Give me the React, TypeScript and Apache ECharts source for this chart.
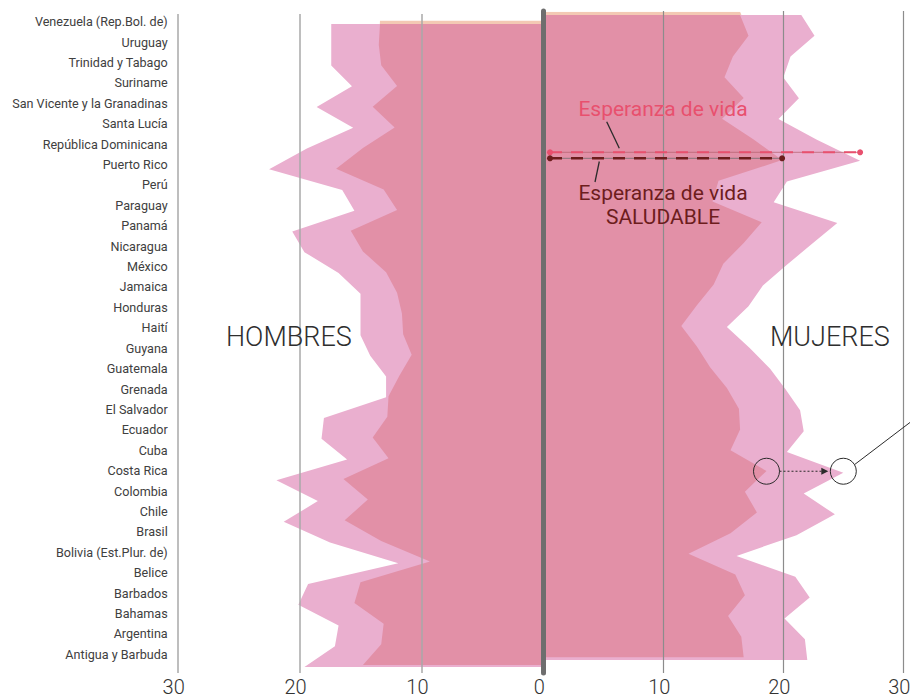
import React, { useEffect, useRef } from 'react';
import * as echarts from 'echarts';

const countries = [
  'Venezuela (Rep.Bol. de)', 'Uruguay', 'Trinidad y Tabago', 'Suriname',
  'San Vicente y la Granadinas', 'Santa Lucía', 'República Dominicana', 'Puerto Rico',
  'Perú', 'Paraguay', 'Panamá', 'Nicaragua', 'México', 'Jamaica', 'Honduras', 'Haití',
  'Guyana', 'Guatemala', 'Grenada', 'El Salvador', 'Ecuador', 'Cuba', 'Costa Rica',
  'Colombia', 'Chile', 'Brasil', 'Bolivia (Est.Plur. de)', 'Belice', 'Barbados',
  'Bahamas', 'Argentina', 'Antigua y Barbuda',
];

// Hombres: esperanza de vida (EV) y esperanza de vida saludable (EVS)
const hombresEV = [17.4, 17.4, 17.4, 15.7, 18.6, 15.6, 19.4, 22.5, 16.5, 15.5, 20.6, 19.6, 16.8, 15.0, 15.0, 15.0, 14.2, 12.9, 12.9, 18.0, 18.2, 16.1, 21.9, 18.5, 21.3, 17.5, 11.9, 19.3, 20.1, 16.8, 17.1, 19.6];
const hombresEVS = [13.4, 13.5, 13.3, 12.0, 14.0, 12.2, 14.8, 17.0, 13.1, 12.0, 15.8, 14.8, 12.9, 12.0, 11.6, 11.5, 10.8, 11.8, 12.7, 12.8, 14.0, 12.7, 16.4, 14.4, 16.3, 13.3, 9.3, 15.0, 15.5, 13.1, 13.3, 14.8];
// Mujeres
const mujeresEV = [21.5, 22.6, 20.6, 20.0, 21.3, 19.6, 22.8, 26.4, 20.3, 19.2, 24.5, 22.4, 20.3, 18.3, 17.1, 15.3, 17.2, 18.9, 20.2, 21.4, 21.7, 20.3, 25.0, 21.7, 24.3, 21.1, 16.1, 21.0, 22.2, 20.1, 21.8, 22.0];
const mujeresEVS = [16.4, 17.1, 15.8, 15.1, 16.7, 14.9, 17.5, 19.9, 14.6, 14.1, 18.2, 16.7, 15.0, 14.2, 12.8, 11.5, 12.8, 13.9, 15.3, 16.3, 16.4, 15.6, 18.6, 16.8, 17.8, 15.6, 12.1, 16.0, 16.8, 15.4, 16.5, 16.7];

const xMin = 0;
const xMax = 30;
const xInterval = 10;

const C_OUTER = '#eaafcf';
const C_INNER = '#e290a7';
const C_PEACH = '#f3c9b4';
const C_RED = '#e8506e';
const C_DARK = '#6d1d1d';

export default function App() {
  const ref = useRef<HTMLDivElement>(null);

  useEffect(() => {
    const chart = echarts.init(ref.current!, null, { renderer: 'svg' });
    const L0 = 177.7, Z0 = 543.3, R30 = 903.3;
    const g = (left: number, right: number, top: number, bottom: number) => ({
      left, top, width: right - left, height: bottom - top, outerBoundsMode: 'none', containLabel: false,
    });
    const grids = [
      g(L0, Z0, 14, 673),      // 0 left frame
      g(Z0, R30, 11, 673),     // 1 right frame
      g(L0, Z0, 21.7, 654.3),  // 2 country labels
      g(L0, Z0, 24, 667),      // 3 left outer
      g(L0, Z0, 24, 665),      // 4 left inner
      g(L0, Z0, 20.5, 661.5),  // 5 left peach
      g(Z0, R30, 15, 660),     // 6 right outer
      g(Z0, R30, 15, 657.5),   // 7 right inner
      g(Z0, R30, 11.7, 654.2), // 8 right peach
    ];
    const leftSide = [0, 2, 3, 4, 5];
    const tickLabel = {
      fontFamily: 'Roboto', fontWeight: 300, fontSize: 20, lineHeight: 18, color: '#333', margin: 5,
      padding: [0, 8, 0, 0],
    };
    const xAxis: any[] = grids.map((_, i) => {
      const base: any = { gridIndex: i, type: 'value', min: xMin, max: xMax, interval: xInterval, inverse: leftSide.includes(i) };
      if (i === 0) {
        return { ...base, z: 10, axisLine: { show: false }, axisTick: { show: false },
          splitLine: { show: true, lineStyle: { color: '#a8a8a8', width: 1.5 } }, axisLabel: tickLabel };
      }
      if (i === 1) {
        return { ...base, z: 10, axisLine: { show: false }, axisTick: { show: false },
          splitLine: { show: true, lineStyle: { color: '#8c8c8c', width: 1.2 } },
          axisLabel: { ...tickLabel, formatter: (v: number) => (v === 0 ? '' : String(v)) } };
      }
      return { ...base, show: false };
    });
    const yAxis: any[] = grids.map((_, i) => {
      if (i === 0) return { gridIndex: 0, type: 'value', min: 0, max: 1, show: false };
      if (i === 1) return { gridIndex: 1, type: 'value', min: 0, max: 1, z: 11,
        axisLine: { show: true, lineStyle: { color: '#6e6e6e', width: 5 } },
        axisLabel: { show: false }, axisTick: { show: false }, splitLine: { show: false } };
      if (i === 2) return { gridIndex: 2, type: 'category', data: countries, inverse: true, boundaryGap: false,
        axisLine: { show: false }, axisTick: { show: false }, splitLine: { show: false },
        axisLabel: { interval: 0, color: '#404040', fontSize: 12.6, fontFamily: 'Roboto', margin: 10 } };
      return { gridIndex: i, type: 'category', data: countries, inverse: true, boundaryGap: false, show: false };
    });
    const area = (idx: number, data: number[], color: string, z: number) => ({
      type: 'line', xAxisIndex: idx, yAxisIndex: idx, data, symbol: 'none', showSymbol: false,
      lineStyle: { width: 0, opacity: 0 }, areaStyle: { color, opacity: 1 }, z, silent: true,
    });
    const option: any = {
      animation: false,
      grid: grids,
      xAxis,
      yAxis,
      series: [
        area(5, hombresEVS, C_PEACH, 1),
        area(3, hombresEV, C_OUTER, 2),
        area(4, hombresEVS, C_INNER, 3),
        area(8, mujeresEVS, C_PEACH, 1),
        area(6, mujeresEV, C_OUTER, 2),
        area(7, mujeresEVS, C_INNER, 3),
      ],
    };
    chart.setOption(option);

    const pr = countries.indexOf('Puerto Rico');
    const cr = countries.indexOf('Costa Rica');
    const evEnd = chart.convertToPixel({ gridIndex: 6 } as any, [mujeresEV[pr], pr]) as number[];
    const evsEnd = chart.convertToPixel({ gridIndex: 7 } as any, [mujeresEVS[pr], pr]) as number[];
    const c1 = chart.convertToPixel({ gridIndex: 7 } as any, [mujeresEVS[cr], cr]) as number[];
    const c2 = chart.convertToPixel({ gridIndex: 6 } as any, [mujeresEV[cr], cr]) as number[];
    const yRed = 152.3, yDark = 158.3, xStart = 550;
    const cy = c2[1] - 1.5;
    const r = 13;
    const arrowEnd = c2[0] - r - 2;
    const lineStartX = c2[0] + r * 0.85, lineStartY = cy - r * 0.5;
    const slope = 0.76;
    const z = 50;
    const txt = (x: number, y: number, text: string, fill: string, size: number, weight: any, align = 'center') => ({
      type: 'text', x, y, z,
      style: { text, fill, fontSize: size, fontFamily: 'Roboto', fontWeight: weight, align, verticalAlign: 'middle' },
    });
    chart.setOption({
      graphic: [
        { type: 'line', z, shape: { x1: xStart, y1: yRed, x2: evEnd[0], y2: yRed }, style: { stroke: '#b96473', lineWidth: 0.8 } },
        { type: 'line', z, shape: { x1: xStart, y1: yRed, x2: evEnd[0], y2: yRed }, style: { stroke: C_RED, lineWidth: 2, lineDash: [12, 9] } },
        { type: 'circle', z, shape: { cx: xStart, cy: yRed, r: 3 }, style: { fill: C_RED } },
        { type: 'circle', z, shape: { cx: evEnd[0], cy: yRed, r: 3 }, style: { fill: C_RED } },
        { type: 'line', z, shape: { x1: xStart, y1: yDark, x2: evsEnd[0], y2: yDark }, style: { stroke: '#6f6f6f', lineWidth: 0.8 } },
        { type: 'line', z, shape: { x1: xStart, y1: yDark, x2: evsEnd[0], y2: yDark }, style: { stroke: C_DARK, lineWidth: 2.5, lineDash: [12, 9] } },
        { type: 'circle', z, shape: { cx: xStart, cy: yDark, r: 3 }, style: { fill: C_DARK } },
        { type: 'circle', z, shape: { cx: evsEnd[0], cy: yDark, r: 3 }, style: { fill: C_DARK } },
        txt(663, 108.5, 'Esperanza de vida', C_RED, 21, 400),
        txt(663, 192.5, 'Esperanza de vida', C_DARK, 21, 400),
        txt(663, 216.5, 'SALUDABLE', C_DARK, 21, 400),
        { type: 'line', z, shape: { x1: 606.7, y1: 121.7, x2: 619.3, y2: 148.3 }, style: { stroke: '#2b2b2b', lineWidth: 1.3 } },
        { type: 'line', z, shape: { x1: 599.3, y1: 161.5, x2: 595, y2: 182 }, style: { stroke: '#2b2b2b', lineWidth: 1.3 } },
        txt(226, 337, 'HOMBRES', '#2e2e2e', 27, 300, 'left'),
        txt(770, 337, 'MUJERES', '#2e2e2e', 27, 300, 'left'),
        { type: 'circle', z, shape: { cx: c1[0], cy, r }, style: { fill: 'none', stroke: '#2b2b2b', lineWidth: 1 } },
        { type: 'circle', z, shape: { cx: c2[0], cy, r }, style: { fill: 'none', stroke: '#2b2b2b', lineWidth: 1 } },
        { type: 'line', z, shape: { x1: c1[0] + r, y1: cy, x2: arrowEnd - 5, y2: cy }, style: { stroke: '#2b2b2b', lineWidth: 1, lineDash: [2, 2] } },
        { type: 'polygon', z, shape: { points: [[arrowEnd - 7, cy - 3.5], [arrowEnd, cy], [arrowEnd - 7, cy + 3.5]] }, style: { fill: '#2b2b2b' } },
        { type: 'line', z, shape: { x1: lineStartX, y1: lineStartY, x2: 912, y2: lineStartY - (912 - lineStartX) * slope }, style: { stroke: '#2b2b2b', lineWidth: 1 } },
      ],
    });

    return () => chart.dispose();
  }, []);

  return (
    <div style={{ position: 'fixed', left: 0, top: 0, width: 910, height: 699, background: '#fff' }}>
      <div ref={ref} style={{ width: 910, height: 699 }} />
    </div>
  );
}
